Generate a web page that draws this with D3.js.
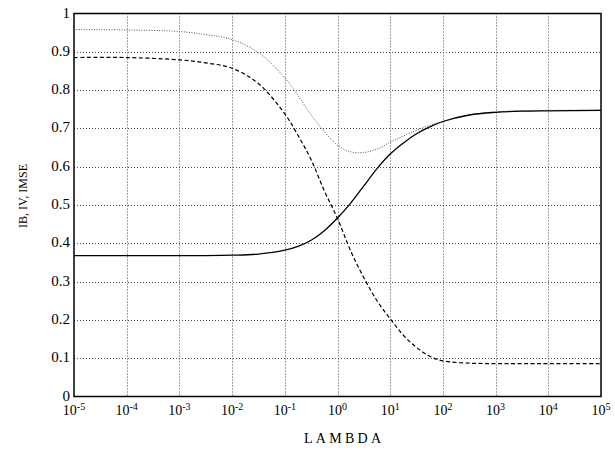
<!DOCTYPE html>
<html>
<head>
<meta charset="utf-8">
<script src="https://cdn.jsdelivr.net/npm/d3@7"></script>
<style>
  body { margin: 0; background: #fff; }
  svg { display: block; }
  text { font-family: "Liberation Serif", "Times New Roman", Times, serif; fill: #000; }
</style>
</head>
<body>
<div id="chart"></div>
<script>
// log10(lambda) sample points
const logLambda = [-5, -4, -3, -2.5, -2, -1.5, -1, -0.75, -0.5, -0.25, 0, 0.25, 0.5, 0.75, 1, 1.25, 1.5, 1.75, 2, 2.5, 3, 3.5, 4, 5];
// dotted curve (IMSE)
const imse = [0.958, 0.957, 0.953, 0.945, 0.932, 0.898, 0.832, 0.786, 0.735, 0.692, 0.656, 0.639, 0.637, 0.646, 0.664, 0.68, 0.695, 0.708, 0.718, 0.735, 0.743, 0.746, 0.747, 0.748];
// dashed curve (IB)
const ib = [0.885, 0.885, 0.879, 0.871, 0.857, 0.817, 0.738, 0.682, 0.618, 0.537, 0.465, 0.38, 0.31, 0.25, 0.203, 0.16, 0.128, 0.105, 0.093, 0.087, 0.086, 0.086, 0.086, 0.086];
// solid curve (IV)
const iv = [0.368, 0.368, 0.368, 0.368, 0.369, 0.372, 0.382, 0.392, 0.408, 0.433, 0.466, 0.505, 0.55, 0.595, 0.633, 0.662, 0.686, 0.704, 0.718, 0.735, 0.742, 0.745, 0.746, 0.747];

const xTickExp = [-5, -4, -3, -2, -1, 0, 1, 2, 3, 4, 5];
const yTicks = [0, 0.1, 0.2, 0.3, 0.4, 0.5, 0.6, 0.7, 0.8, 0.9, 1];

const W = 615, H = 450;
const mLeft = 74, mRight = 601, mTop = 13.5, mBottom = 396.5;

const svg = d3.select("#chart").append("svg")
    .attr("width", W)
    .attr("height", H);

const x = d3.scaleLog().domain([1e-5, 1e5]).range([mLeft, mRight]);
const y = d3.scaleLinear().domain([0, 1]).range([mBottom, mTop]);

// grid
const grid = svg.append("g").attr("stroke", "#000").attr("stroke-width", 1)
    .attr("stroke-dasharray", "1,2").attr("opacity", 0.7);
grid.selectAll(".gx").data(xTickExp.slice(1, -1)).enter().append("line")
    .attr("x1", d => Math.round(x(Math.pow(10, d))) + 0.5)
    .attr("x2", d => Math.round(x(Math.pow(10, d))) + 0.5)
    .attr("y1", mTop).attr("y2", mBottom);
grid.selectAll(".gy").data(yTicks.slice(1, -1)).enter().append("line")
    .attr("y1", d => Math.round(y(d)) + 0.5)
    .attr("y2", d => Math.round(y(d)) + 0.5)
    .attr("x1", mLeft).attr("x2", mRight);

// curves
const pts = vals => logLambda.map((l, i) => [Math.pow(10, l), vals[i]]);
const line = d3.line()
    .x(d => x(d[0]))
    .y(d => y(d[1]))
    .curve(d3.curveCatmullRom.alpha(0.5));

svg.append("path").datum(pts(imse))
    .attr("d", line).attr("fill", "none")
    .attr("stroke", "#555").attr("stroke-width", 1)
    .attr("stroke-dasharray", "1,1.5");
svg.append("path").datum(pts(ib))
    .attr("d", line).attr("fill", "none")
    .attr("stroke", "#000").attr("stroke-width", 1.2)
    .attr("stroke-dasharray", "4,2.5");
svg.append("path").datum(pts(iv))
    .attr("d", line).attr("fill", "none")
    .attr("stroke", "#000").attr("stroke-width", 1.3);

// frame
svg.append("rect")
    .attr("x", mLeft).attr("y", mTop)
    .attr("width", mRight - mLeft).attr("height", mBottom - mTop)
    .attr("fill", "none").attr("stroke", "#000").attr("stroke-width", 1.5);

// y tick labels
svg.selectAll(".ylab").data(yTicks).enter().append("text")
    .attr("x", mLeft - 4)
    .attr("y", d => y(d) + 4)
    .attr("text-anchor", "end")
    .attr("font-size", 15)
    .text(d => d === 0 || d === 1 ? String(d) : d3.format(".1f")(d));

// x tick labels with superscript exponents
const xl = svg.selectAll(".xlab").data(xTickExp).enter().append("text")
    .attr("x", d => x(Math.pow(10, d)))
    .attr("y", 415)
    .attr("text-anchor", "middle")
    .attr("font-size", 14);
xl.append("tspan").text("10");
xl.append("tspan").attr("font-size", 10).attr("dy", -5)
    .text(d => d < 0 ? "-" + Math.abs(d) : String(d));

// axis titles
svg.append("text")
    .attr("x", (mLeft + mRight) / 2 + 5)
    .attr("y", 443)
    .attr("text-anchor", "middle")
    .attr("font-size", 14)
    .attr("textLength", 77)
    .attr("lengthAdjust", "spacing")
    .text("LAMBDA");

svg.append("text")
    .attr("transform", "translate(27,196) rotate(-90)")
    .attr("text-anchor", "middle")
    .attr("font-size", 13)
    .attr("textLength", 64)
    .attr("lengthAdjust", "spacingAndGlyphs")
    .text("IB, IV, IMSE");
</script>
</body>
</html>
